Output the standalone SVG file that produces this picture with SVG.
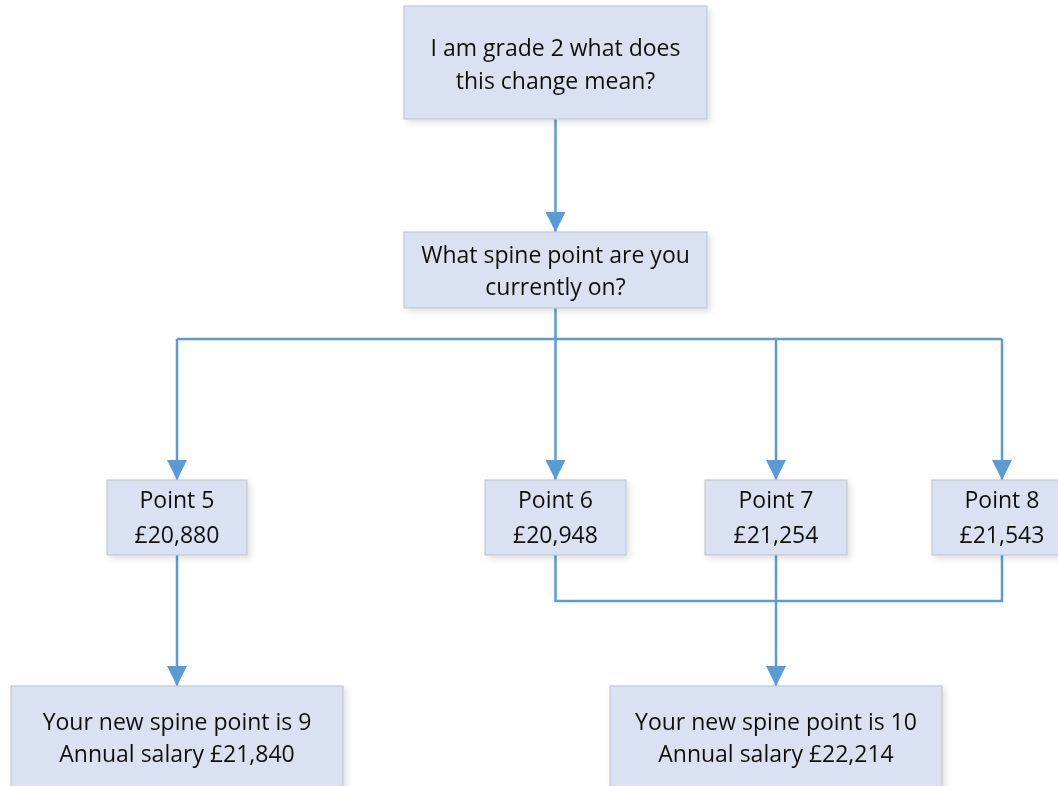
<svg xmlns="http://www.w3.org/2000/svg" width="1058" height="786" viewBox="0 0 1058 786">
<style>
.box{fill:#dae1f2;stroke:#c3c8cf;stroke-width:1.2}
.t{font-family:"Open Sans","Liberation Sans",sans-serif;font-size:23px;fill:#111;text-anchor:middle}
.c{fill:none;stroke:#5b9bd5;stroke-width:2.5}
</style>
<defs>
<marker id="a" viewBox="0 0 20 20" refX="20" refY="10" markerWidth="20" markerHeight="20" orient="auto" markerUnits="userSpaceOnUse">
<path d="M0,0 L20,10 L0,20 Z" fill="#5b9bd5"/>
</marker>
<filter id="sh" x="-10%" y="-10%" width="130%" height="130%">
<feDropShadow dx="3" dy="3" stdDeviation="3" flood-color="#000" flood-opacity="0.12"/>
</filter>
</defs>
<rect width="1058" height="786" fill="#fff"/>
<g id="connectors">
<path class="c" d="M555.5,119 V232" marker-end="url(#a)"/>
<path class="c" d="M555.5,308 V339"/>
<path class="c" d="M177,339 H1002"/>
<path class="c" d="M177,339 V480" marker-end="url(#a)"/>
<path class="c" d="M555.5,339 V480" marker-end="url(#a)"/>
<path class="c" d="M776,339 V480" marker-end="url(#a)"/>
<path class="c" d="M1002,339 V480" marker-end="url(#a)"/>
<path class="c" d="M177,555 V686" marker-end="url(#a)"/>
<path class="c" d="M555.5,555 V601 H1002 V555"/>
<path class="c" d="M776,555 V686" marker-end="url(#a)"/>
</g>
<g id="n1" filter="url(#sh)"><rect class="box" x="404" y="6" width="303" height="113"/>
<text class="t" x="555.5" y="56">I am grade 2 what does</text><text class="t" x="555.5" y="89">this change mean?</text></g>
<g id="n2" filter="url(#sh)"><rect class="box" x="404" y="232" width="303" height="76"/>
<text class="t" x="555.5" y="263">What spine point are you</text><text class="t" x="555.5" y="295">currently on?</text></g>
<g id="p5" filter="url(#sh)"><rect class="box" x="107" y="480" width="140" height="75"/>
<text class="t" x="177" y="508">Point 5</text><text class="t" x="177" y="543">£20,880</text></g>
<g id="p6" filter="url(#sh)"><rect class="box" x="485" y="480" width="141" height="75"/>
<text class="t" x="555.5" y="508">Point 6</text><text class="t" x="555.5" y="543">£20,948</text></g>
<g id="p7" filter="url(#sh)"><rect class="box" x="705" y="480" width="142" height="75"/>
<text class="t" x="776" y="508">Point 7</text><text class="t" x="776" y="543">£21,254</text></g>
<g id="p8" filter="url(#sh)"><rect class="box" x="932" y="480" width="141" height="75"/>
<text class="t" x="1002" y="508">Point 8</text><text class="t" x="1002" y="543">£21,543</text></g>
<g id="r9" filter="url(#sh)"><rect class="box" x="11" y="686" width="332" height="110"/>
<text class="t" x="177" y="730">Your new spine point is 9</text><text class="t" x="177" y="762">Annual salary £21,840</text></g>
<g id="r10" filter="url(#sh)"><rect class="box" x="610" y="686" width="332" height="110"/>
<text class="t" x="776" y="730">Your new spine point is 10</text><text class="t" x="776" y="762">Annual salary £22,214</text></g>
</svg>
